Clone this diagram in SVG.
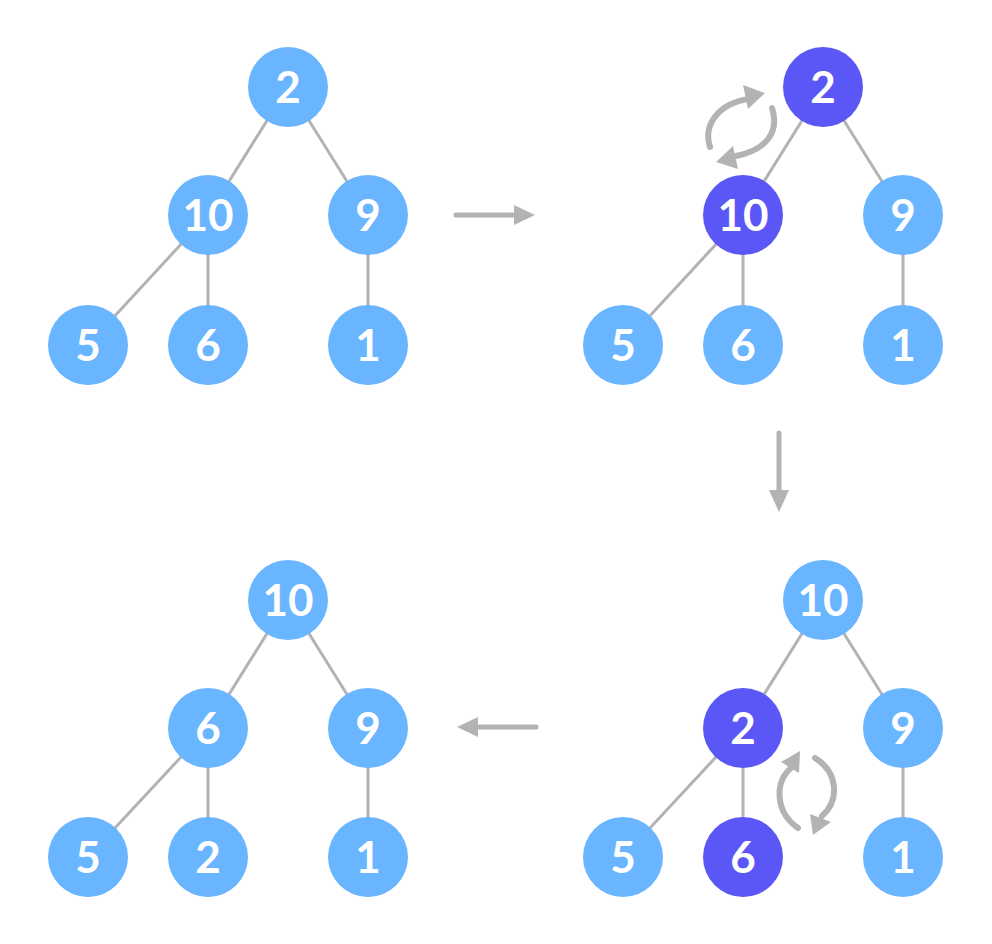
<svg xmlns="http://www.w3.org/2000/svg" width="992" height="944" viewBox="0 0 992 944">
<style>
.e{stroke:#b3b3b3;stroke-width:3;fill:none}
.n{fill:#69b5ff}
.p{fill:#5a57f6}
.t{fill:#fff;font-family:Lato,"Open Sans",sans-serif;font-weight:bold;font-size:44px;text-anchor:middle}
.a{stroke:#b3b3b3;stroke-width:5;stroke-linecap:round;fill:none}
.s{stroke:#b3b3b3;stroke-width:6;stroke-linecap:round;fill:none}
.h{fill:#b3b3b3}
</style>
<rect width="992" height="944" fill="#fff"/>
<g id="connectors">
<path class="e" d="M288,87L208,215M288,87L368,215M208,215L88,345M208,215L208,345M368,215L368,345"/>
<path class="e" d="M823,87L743,215M823,87L903,215M743,215L623,345M743,215L743,345M903,215L903,345"/>
<path class="e" d="M288,600L208,728M288,600L368,728M208,728L88,857M208,728L208,857M368,728L368,857"/>
<path class="e" d="M823,600L743,728M823,600L903,728M743,728L623,857M743,728L743,857M903,728L903,857"/>
<path class="a" d="M456,215H518"/><polygon class="h" points="514,205 535,215 514,225"/>
<path class="a" d="M779,433V494"/><polygon class="h" points="769,490 779,512 789,490"/>
<path class="a" d="M536,727H475"/><polygon class="h" points="478,717 457,727 478,737"/>
<path class="s" d="M710,147C703,125 718,104 748,99"/><polygon class="h" points="743,85 765,93 748,109"/>
<path class="s" d="M772,108C780,132 766,150 736,156"/><polygon class="h" points="733,146 716,162 738,169"/>
<path class="s" d="M798,828C775,812 774,782 792,767"/><polygon class="h" points="781,762 800,751 799,773"/>
<path class="s" d="M815,758C838,772 840,800 822,816"/><polygon class="h" points="810,814 813,835 831,822"/>
</g>
<g id="t1_root"><circle class="n" cx="288" cy="87" r="40"/><text class="t" x="288" y="103">2</text></g>
<g id="t1_10"><circle class="n" cx="208" cy="215" r="40"/><text class="t" x="208" y="231">10</text></g>
<g id="t1_9"><circle class="n" cx="368" cy="215" r="40"/><text class="t" x="368" y="231">9</text></g>
<g id="t1_5"><circle class="n" cx="88" cy="345" r="40"/><text class="t" x="88" y="361">5</text></g>
<g id="t1_6"><circle class="n" cx="208" cy="345" r="40"/><text class="t" x="208" y="361">6</text></g>
<g id="t1_1"><circle class="n" cx="368" cy="345" r="40"/><text class="t" x="368" y="361">1</text></g>

<g id="t2_root"><circle class="p" cx="823" cy="87" r="40"/><text class="t" x="823" y="103">2</text></g>
<g id="t2_10"><circle class="p" cx="743" cy="215" r="40"/><text class="t" x="743" y="231">10</text></g>
<g id="t2_9"><circle class="n" cx="903" cy="215" r="40"/><text class="t" x="903" y="231">9</text></g>
<g id="t2_5"><circle class="n" cx="623" cy="345" r="40"/><text class="t" x="623" y="361">5</text></g>
<g id="t2_6"><circle class="n" cx="743" cy="345" r="40"/><text class="t" x="743" y="361">6</text></g>
<g id="t2_1"><circle class="n" cx="903" cy="345" r="40"/><text class="t" x="903" y="361">1</text></g>

<g id="t3_root"><circle class="n" cx="823" cy="600" r="40"/><text class="t" x="823" y="616">10</text></g>
<g id="t3_2"><circle class="p" cx="743" cy="728" r="40"/><text class="t" x="743" y="744">2</text></g>
<g id="t3_9"><circle class="n" cx="903" cy="728" r="40"/><text class="t" x="903" y="744">9</text></g>
<g id="t3_5"><circle class="n" cx="623" cy="857" r="40"/><text class="t" x="623" y="873">5</text></g>
<g id="t3_6"><circle class="p" cx="743" cy="857" r="40"/><text class="t" x="743" y="873">6</text></g>
<g id="t3_1"><circle class="n" cx="903" cy="857" r="40"/><text class="t" x="903" y="873">1</text></g>

<g id="t4_root"><circle class="n" cx="288" cy="600" r="40"/><text class="t" x="288" y="616">10</text></g>
<g id="t4_6"><circle class="n" cx="208" cy="728" r="40"/><text class="t" x="208" y="744">6</text></g>
<g id="t4_9"><circle class="n" cx="368" cy="728" r="40"/><text class="t" x="368" y="744">9</text></g>
<g id="t4_5"><circle class="n" cx="88" cy="857" r="40"/><text class="t" x="88" y="873">5</text></g>
<g id="t4_2"><circle class="n" cx="208" cy="857" r="40"/><text class="t" x="208" y="873">2</text></g>
<g id="t4_1"><circle class="n" cx="368" cy="857" r="40"/><text class="t" x="368" y="873">1</text></g>
</svg>
